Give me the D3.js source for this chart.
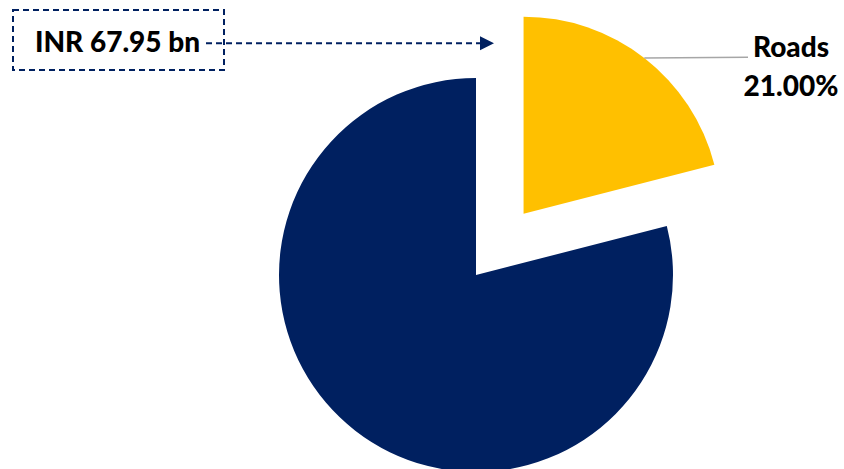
<!DOCTYPE html>
<html>
<head>
<meta charset="utf-8">
<script src="https://cdn.jsdelivr.net/npm/d3@7"></script>
<style>
  html, body { margin: 0; padding: 0; background: #fff; }
  svg { display: block; }
</style>
</head>
<body>
<svg id="chart" width="844" height="469"></svg>
<script>
// Share of the budget by sector
const categories = ["Roads", "Other"];
const shares = [21.0, 79.0];
const showLabel = [true, false];
const explode = [true, false];
const calloutText = "INR 67.95 bn";

const W = 844, H = 469;
const cx = 476, cy = 275, R = 197, explodeDist = 77.6;
const colors = d3.scaleOrdinal().domain(categories).range(["#FFC000", "#002060"]);

const svg = d3.select("#chart");
const fontFamily = "Lato, 'Open Sans', sans-serif";
const fontSize = 28;

const pie = d3.pie().sort(null).value(d => d.value);
const arcs = pie(categories.map((c, i) => ({ name: c, value: shares[i], label: showLabel[i], explode: explode[i] })));
const arc = d3.arc().innerRadius(0).outerRadius(R);

const g = svg.append("g").attr("transform", `translate(${cx},${cy})`);

function offset(d) {
  if (!d.data.explode) return [0, 0];
  const mid = (d.startAngle + d.endAngle) / 2;
  return [Math.sin(mid) * explodeDist, -Math.cos(mid) * explodeDist];
}

g.selectAll("path.slice")
  .data(arcs)
  .join("path")
  .attr("class", "slice")
  .attr("d", arc)
  .attr("fill", d => colors(d.data.name))
  .attr("transform", d => `translate(${offset(d)})`);

// Data label with leader line
const labelX = 791;
arcs.filter(d => d.data.label).forEach(d => {
  const [ox, oy] = offset(d);
  const mid = (d.startAngle + d.endAngle) / 2;
  const px = cx + ox + Math.sin(mid) * R;
  const py = cy + oy - Math.cos(mid) * R;
  svg.append("line")
    .attr("x1", px).attr("y1", py)
    .attr("x2", 748).attr("y2", 57.3)
    .attr("stroke", "#A6A6A6").attr("stroke-width", 1.5);
  const t = svg.append("text")
    .attr("text-anchor", "middle")
    .attr("font-family", fontFamily)
    .attr("font-weight", 900)
    .attr("font-size", fontSize)
    .attr("fill", "#000");
  t.append("tspan").attr("x", labelX).attr("y", 57).text(d.data.name);
  t.append("tspan").attr("x", labelX).attr("y", 96).text(d3.format(".2f")(d.data.value) + "%");
});

// Callout box with dashed arrow
const navy = "#002060";
svg.append("defs").append("marker")
  .attr("id", "arrowhead")
  .attr("viewBox", "0 0 10 10")
  .attr("refX", 0).attr("refY", 5)
  .attr("markerWidth", 14).attr("markerHeight", 16)
  .attr("markerUnits", "userSpaceOnUse")
  .attr("orient", "auto")
  .append("path").attr("d", "M0,0 L10,5 L0,10 Z").attr("fill", navy);

svg.append("rect")
  .attr("x", 13).attr("y", 10).attr("width", 211).attr("height", 60)
  .attr("fill", "none").attr("stroke", navy).attr("stroke-width", 2)
  .attr("stroke-dasharray", "6,4");

svg.append("text")
  .attr("x", 117.5).attr("y", 52)
  .attr("text-anchor", "middle")
  .attr("font-family", fontFamily)
  .attr("font-weight", 900)
  .attr("font-size", fontSize)
  .attr("fill", "#000")
  .text(calloutText);

svg.append("line")
  .attr("x1", 206).attr("y1", 43.3).attr("x2", 480).attr("y2", 43.3)
  .attr("stroke", navy).attr("stroke-width", 2)
  .attr("stroke-dasharray", "6,4")
  .attr("marker-end", "url(#arrowhead)");
</script>
</body>
</html>
